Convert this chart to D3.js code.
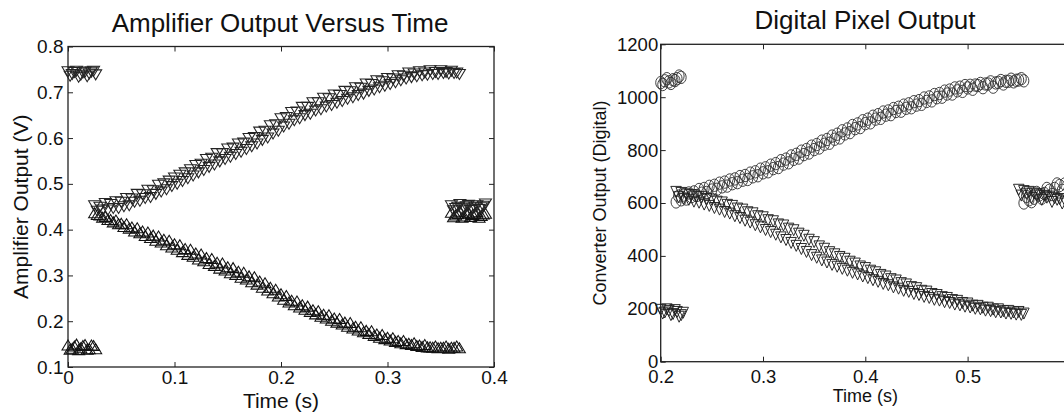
<!DOCTYPE html>
<html>
<head>
<meta charset="utf-8">
<script src="https://cdn.jsdelivr.net/npm/d3@7"></script>
<style>
  body { margin: 0; background: #fff; }
  svg { display: block; background: #fff; }
  text { font-family: "Liberation Sans", Arial, Helvetica, sans-serif; fill: #111; }
</style>
</head>
<body>
<svg id="chart" width="1064" height="418"></svg>
<script>
// ---------- Amplifier output (V) versus time (s) ----------
// down-pointing triangle pixel: resets low, then rises (two read-outs, A and B)
const ampDownTriA = [
  [0.000,0.745],[0.004,0.739],[0.008,0.746],[0.012,0.737],[0.016,0.744],[0.020,0.740],[0.024,0.746],
  [0.025,0.452],[0.030,0.449],[0.035,0.457],[0.040,0.455],[0.045,0.461],[0.050,0.460],[0.055,0.468],
  [0.060,0.467],[0.065,0.477],[0.070,0.476],[0.075,0.486],[0.080,0.485],[0.085,0.497],[0.090,0.500],
  [0.095,0.506],[0.100,0.513],[0.105,0.519],[0.110,0.524],[0.115,0.531],[0.120,0.540],[0.125,0.543],
  [0.130,0.553],[0.135,0.556],[0.140,0.566],[0.145,0.566],[0.150,0.576],[0.155,0.578],[0.160,0.587],
  [0.165,0.589],[0.170,0.599],[0.175,0.601],[0.180,0.613],[0.185,0.615],[0.190,0.627],[0.195,0.629],
  [0.200,0.642],[0.205,0.645],[0.210,0.656],[0.215,0.657],[0.220,0.667],[0.225,0.667],[0.230,0.677],
  [0.235,0.677],[0.240,0.687],[0.245,0.686],[0.250,0.694],[0.255,0.693],[0.260,0.702],[0.265,0.701],
  [0.270,0.710],[0.275,0.709],[0.280,0.718],[0.285,0.717],[0.290,0.725],[0.295,0.723],[0.300,0.730],
  [0.305,0.729],[0.310,0.736],[0.315,0.735],[0.320,0.742],[0.325,0.740],[0.330,0.745],[0.335,0.742],
  [0.340,0.747],[0.345,0.743],[0.350,0.747],[0.355,0.743],[0.360,0.746],[0.365,0.742],
  [0.360,0.452],[0.364,0.446],[0.368,0.455],[0.372,0.447],[0.376,0.453],[0.380,0.445],[0.384,0.452],
  [0.388,0.448],[0.392,0.456]
];
const ampDownTriB = [
  [0.002,0.735],[0.006,0.743],[0.010,0.733],[0.014,0.742],[0.018,0.734],[0.022,0.744],[0.026,0.738],
  [0.0275,0.440],[0.0325,0.443],[0.0375,0.443],[0.0425,0.446],[0.0475,0.446],[0.0525,0.450],
  [0.0575,0.452],[0.0625,0.460],[0.0675,0.462],[0.0725,0.468],[0.0775,0.470],[0.0825,0.477],
  [0.0875,0.482],[0.0925,0.487],[0.0975,0.494],[0.1025,0.499],[0.1075,0.505],[0.1125,0.511],
  [0.1175,0.517],[0.1225,0.524],[0.1275,0.529],[0.1325,0.536],[0.1375,0.541],[0.1425,0.548],
  [0.1475,0.553],[0.1525,0.558],[0.1575,0.564],[0.1625,0.569],[0.1675,0.575],[0.1725,0.581],
  [0.1775,0.587],[0.1825,0.595],[0.1875,0.600],[0.1925,0.609],[0.1975,0.615],[0.2025,0.624],
  [0.2075,0.630],[0.2125,0.638],[0.2175,0.642],[0.2225,0.649],[0.2275,0.652],[0.2325,0.659],
  [0.2375,0.662],[0.2425,0.668],[0.2475,0.671],[0.2525,0.676],[0.2575,0.680],[0.2625,0.685],
  [0.2675,0.688],[0.2725,0.693],[0.2775,0.696],[0.2825,0.702],[0.2875,0.705],[0.2925,0.710],
  [0.2975,0.713],[0.3025,0.717],[0.3075,0.721],[0.3125,0.725],[0.3175,0.729],[0.3225,0.732],
  [0.3275,0.734],[0.3325,0.736],[0.3375,0.737],[0.3425,0.739],[0.3475,0.739],[0.3525,0.741],
  [0.3575,0.740],[0.3625,0.741],[0.3675,0.739],
  [0.362,0.441],[0.366,0.449],[0.370,0.443],[0.374,0.450],[0.378,0.442],[0.382,0.449],[0.386,0.444],
  [0.390,0.451]
];
// up-pointing triangle pixel: resets high, then falls (two read-outs, A and B)
const ampUpTriA = [
  [0.000,0.148],[0.004,0.141],[0.008,0.150],[0.012,0.142],[0.016,0.149],[0.020,0.140],[0.024,0.147],
  [0.025,0.437],[0.030,0.432],[0.035,0.429],[0.040,0.422],[0.045,0.421],[0.050,0.414],[0.055,0.413],
  [0.060,0.406],[0.065,0.404],[0.070,0.397],[0.075,0.395],[0.080,0.388],[0.085,0.386],[0.090,0.379],
  [0.095,0.377],[0.100,0.369],[0.105,0.367],[0.110,0.359],[0.115,0.357],[0.120,0.349],[0.125,0.347],
  [0.130,0.339],[0.135,0.337],[0.140,0.329],[0.145,0.327],[0.150,0.319],[0.155,0.317],[0.160,0.309],
  [0.165,0.307],[0.170,0.299],[0.175,0.297],[0.180,0.288],[0.185,0.284],[0.190,0.274],[0.195,0.270],
  [0.200,0.260],[0.205,0.256],[0.210,0.246],[0.215,0.244],[0.220,0.236],[0.225,0.233],[0.230,0.225],
  [0.235,0.223],[0.240,0.215],[0.245,0.214],[0.250,0.207],[0.255,0.206],[0.260,0.198],[0.265,0.197],
  [0.270,0.189],[0.275,0.188],[0.280,0.180],[0.285,0.179],[0.290,0.172],[0.295,0.171],[0.300,0.165],
  [0.305,0.164],[0.310,0.158],[0.315,0.158],[0.320,0.152],[0.325,0.153],[0.330,0.148],[0.335,0.149],
  [0.340,0.144],[0.345,0.146],[0.350,0.143],[0.355,0.146],[0.360,0.143],[0.365,0.146],
  [0.360,0.438],[0.364,0.432],[0.368,0.440],[0.372,0.430],[0.376,0.437],[0.380,0.433],[0.384,0.439],
  [0.388,0.431],[0.392,0.436]
];
const ampUpTriB = [
  [0.002,0.139],[0.006,0.146],[0.010,0.138],[0.014,0.147],[0.018,0.139],[0.022,0.148],[0.026,0.140],
  [0.0275,0.433],[0.0325,0.427],[0.0375,0.422],[0.0425,0.417],[0.0475,0.413],[0.0525,0.407],
  [0.0575,0.403],[0.0625,0.397],[0.0675,0.393],[0.0725,0.387],[0.0775,0.383],[0.0825,0.377],
  [0.0875,0.373],[0.0925,0.367],[0.0975,0.362],[0.1025,0.357],[0.1075,0.352],[0.1125,0.346],
  [0.1175,0.342],[0.1225,0.336],[0.1275,0.332],[0.1325,0.326],[0.1375,0.322],[0.1425,0.316],
  [0.1475,0.312],[0.1525,0.306],[0.1575,0.302],[0.1625,0.296],[0.1675,0.292],[0.1725,0.286],
  [0.1775,0.281],[0.1825,0.274],[0.1875,0.268],[0.1925,0.262],[0.1975,0.255],[0.2025,0.248],
  [0.2075,0.242],[0.2125,0.236],[0.2175,0.231],[0.2225,0.226],[0.2275,0.221],[0.2325,0.216],
  [0.2375,0.211],[0.2425,0.207],[0.2475,0.202],[0.2525,0.198],[0.2575,0.194],[0.2625,0.189],
  [0.2675,0.185],[0.2725,0.181],[0.2775,0.177],[0.2825,0.173],[0.2875,0.169],[0.2925,0.165],
  [0.2975,0.162],[0.3025,0.159],[0.3075,0.156],[0.3125,0.153],[0.3175,0.151],[0.3225,0.149],
  [0.3275,0.147],[0.3325,0.145],[0.3375,0.144],[0.3425,0.143],[0.3475,0.142],[0.3525,0.143],
  [0.3575,0.141],[0.3625,0.143],[0.3675,0.142],
  [0.362,0.428],[0.366,0.435],[0.370,0.427],[0.374,0.436],[0.378,0.429],[0.382,0.435],[0.386,0.427],
  [0.390,0.434]
];
const ampXTicks = [0, 0.1, 0.2, 0.3, 0.4];
const ampYTicks = [0.1, 0.2, 0.3, 0.4, 0.5, 0.6, 0.7, 0.8];

// ---------- Digital pixel (converter) output versus time (s) ----------
const pixCircleA = [
  [0.200,1055],[0.204,1062],[0.208,1058],[0.212,1066],[0.216,1070],[0.220,1075],
  [0.215,604],[0.220,612],[0.225,615],[0.230,624],[0.235,628],[0.240,637],[0.245,640],[0.250,649],
  [0.255,652],[0.260,661],[0.265,664],[0.270,673],[0.275,677],[0.280,686],[0.285,689],[0.290,699],
  [0.295,703],[0.300,714],[0.305,718],[0.310,730],[0.315,734],[0.320,747],[0.325,752],[0.330,765],
  [0.335,770],[0.340,783],[0.345,789],[0.350,802],[0.355,808],[0.360,822],[0.365,826],[0.370,841],
  [0.375,846],[0.380,861],[0.385,866],[0.390,881],[0.395,885],[0.400,900],[0.405,903],[0.410,917],
  [0.415,920],[0.420,932],[0.425,934],[0.430,946],[0.435,947],[0.440,958],[0.445,960],[0.450,970],
  [0.455,973],[0.460,984],[0.465,986],[0.470,998],[0.475,1000],[0.480,1012],[0.485,1012],[0.490,1024],
  [0.495,1022],[0.500,1035],[0.505,1030],[0.510,1044],[0.515,1036],[0.520,1050],[0.525,1038],
  [0.530,1056],[0.535,1050],[0.540,1060],[0.545,1058],[0.550,1065],[0.555,1062],
  [0.555,600],[0.560,612],[0.565,618],[0.570,630],[0.575,636],[0.580,648],[0.585,655],[0.590,666],
  [0.595,672],[0.600,684]
];
const pixCircleB = [
  [0.202,1048],[0.206,1070],[0.210,1052],[0.214,1063],[0.218,1080],
  [0.2175,626],[0.2225,630],[0.2275,638],[0.2325,642],[0.2375,651],[0.2425,655],[0.2475,663],
  [0.2525,667],[0.2575,675],[0.2625,679],[0.2675,687],[0.2725,691],[0.2775,700],[0.2825,704],
  [0.2875,713],[0.2925,718],[0.2975,728],[0.3025,733],[0.3075,743],[0.3125,749],[0.3175,760],
  [0.3225,766],[0.3275,778],[0.3325,784],[0.3375,796],[0.3425,802],[0.3475,815],[0.3525,821],
  [0.3575,834],[0.3625,840],[0.3675,853],[0.3725,860],[0.3775,873],[0.3825,880],[0.3875,893],
  [0.3925,899],[0.3975,911],[0.4025,917],[0.4075,928],[0.4125,934],[0.4175,944],[0.4225,948],
  [0.4275,957],[0.4325,962],[0.4375,970],[0.4425,975],[0.4475,983],[0.4525,987],[0.4575,997],
  [0.4625,1001],[0.4675,1010],[0.4725,1014],[0.4775,1023],[0.4825,1027],[0.4875,1035],[0.4925,1038],
  [0.4975,1044],[0.5025,1045],[0.5075,1046],[0.5125,1052],[0.5175,1050],[0.5225,1058],[0.5275,1054],
  [0.5325,1063],[0.5375,1060],[0.5425,1068],[0.5475,1064],[0.5525,1070],
  [0.5575,625],[0.5625,605],[0.5675,640],[0.5725,618],[0.5775,655],[0.5825,632],[0.5875,672],
  [0.5925,648]
];
const pixDownTriA = [
  [0.200,196],[0.204,186],[0.208,192],[0.212,180],[0.216,188],[0.220,176],
  [0.215,642],[0.220,638],[0.225,633],[0.230,630],[0.235,624],[0.240,622],[0.245,615],[0.250,613],
  [0.255,605],[0.260,602],[0.265,593],[0.270,589],[0.275,579],[0.280,575],[0.285,565],[0.290,561],
  [0.295,550],[0.300,546],[0.305,535],[0.310,531],[0.315,519],[0.320,515],[0.325,503],[0.330,497],
  [0.335,484],[0.340,476],[0.345,461],[0.350,452],[0.355,436],[0.360,427],[0.365,414],[0.370,406],
  [0.375,396],[0.380,389],[0.385,378],[0.390,371],[0.395,360],[0.400,354],[0.405,344],[0.410,338],
  [0.415,328],[0.420,322],[0.425,312],[0.430,307],[0.435,297],[0.440,292],[0.445,282],[0.450,278],
  [0.455,268],[0.460,265],[0.465,256],[0.470,252],[0.475,244],[0.480,241],[0.485,233],[0.490,230],
  [0.495,222],[0.500,220],[0.505,212],[0.510,211],[0.515,204],[0.520,204],[0.525,197],[0.530,198],
  [0.535,191],[0.540,192],[0.545,186],[0.550,188],[0.555,182],
  [0.550,650],[0.555,645],[0.560,642],[0.565,636],[0.570,633],[0.575,627],[0.580,624],[0.585,618],
  [0.590,615],[0.595,609],[0.600,606]
];
const pixDownTriB = [
  [0.202,182],[0.206,198],[0.210,176],[0.214,195],[0.218,170],[0.222,185],
  [0.2175,622],[0.2225,616],[0.2275,612],[0.2325,605],[0.2375,601],[0.2425,594],[0.2475,589],
  [0.2525,581],[0.2575,575],[0.2625,566],[0.2675,560],[0.2725,550],[0.2775,543],[0.2825,533],
  [0.2875,526],[0.2925,516],[0.2975,508],[0.3025,498],[0.3075,490],[0.3125,480],[0.3175,470],
  [0.3225,460],[0.3275,449],[0.3325,438],[0.3375,426],[0.3425,415],[0.3475,403],[0.3525,393],
  [0.3575,383],[0.3625,375],[0.3675,366],[0.3725,359],[0.3775,351],[0.3825,344],[0.3875,336],
  [0.3925,330],[0.3975,322],[0.4025,316],[0.4075,308],[0.4125,302],[0.4175,294],[0.4225,289],
  [0.4275,281],[0.4325,276],[0.4375,268],[0.4425,264],[0.4475,256],[0.4525,252],[0.4575,245],
  [0.4625,241],[0.4675,234],[0.4725,231],[0.4775,225],[0.4825,222],[0.4875,216],[0.4925,213],
  [0.4975,208],[0.5025,205],[0.5075,200],[0.5125,198],[0.5175,193],[0.5225,191],[0.5275,187],
  [0.5325,186],[0.5375,182],[0.5425,181],[0.5475,178],[0.5525,177],
  [0.5525,628],[0.5575,635],[0.5625,620],[0.5675,628],[0.5725,612],[0.5775,620],[0.5825,604],
  [0.5875,612],[0.5925,598]
];
const pixXTicks = [0.2, 0.3, 0.4, 0.5];
const pixYTicks = [0, 200, 400, 600, 800, 1000, 1200];

// ---------- drawing ----------
const svg = d3.select("#chart");
const INK = "#222";

function triPath(w, h, down) {
  const p = d3.path();
  if (down) { p.moveTo(-w/2, -h/2); p.lineTo(w/2, -h/2); p.lineTo(0, h/2); }
  else      { p.moveTo(-w/2,  h/2); p.lineTo(w/2,  h/2); p.lineTo(0, -h/2); }
  p.closePath();
  return p.toString();
}

function drawPanel(cfg) {
  const g = svg.append("g");
  const x = d3.scaleLinear().domain(cfg.xDomain).range([cfg.left, cfg.left + cfg.width]);
  const y = d3.scaleLinear().domain(cfg.yDomain).range([cfg.top + cfg.height, cfg.top]);
  const tk = 5;

  // frame
  g.append("rect")
    .attr("x", cfg.left).attr("y", cfg.top)
    .attr("width", cfg.width).attr("height", cfg.height)
    .attr("fill", "none").attr("stroke", INK).attr("stroke-width", 1.3);

  const style = sel => {
    sel.select(".domain").remove();
    sel.selectAll(".tick line").attr("stroke", INK).attr("stroke-width", 1);
    sel.selectAll(".tick text").attr("fill", "#111")
      .style("font-family", '"Liberation Sans", Arial, sans-serif')
      .style("font-size", cfg.tickFont + "px");
  };

  g.append("g").attr("transform", `translate(0,${cfg.top + cfg.height})`)
    .call(d3.axisBottom(x).tickValues(cfg.xTicks).tickSizeInner(-tk).tickSizeOuter(0)
      .tickPadding(cfg.xPad).tickFormat(cfg.xFmt))
    .call(style);
  g.append("g").attr("transform", `translate(0,${cfg.top})`)
    .call(d3.axisTop(x).tickValues(cfg.xTicks).tickSizeInner(-tk).tickSizeOuter(0).tickFormat(""))
    .call(style);
  g.append("g").attr("transform", `translate(${cfg.left},0)`)
    .call(d3.axisLeft(y).tickValues(cfg.yTicks).tickSizeInner(-tk).tickSizeOuter(0)
      .tickPadding(cfg.yPad).tickFormat(cfg.yFmt))
    .call(style);
  g.append("g").attr("transform", `translate(${cfg.left + cfg.width},0)`)
    .call(d3.axisRight(y).tickValues(cfg.yTicks).tickSizeInner(-tk).tickSizeOuter(0).tickFormat(""))
    .call(style);

  // titles
  g.append("text").attr("x", cfg.titleX).attr("y", cfg.titleY)
    .attr("text-anchor", "middle").style("font-size", "26px").text(cfg.title);
  g.append("text").attr("x", cfg.left + cfg.width / 2).attr("y", cfg.xLabelY)
    .attr("text-anchor", "middle").style("font-size", cfg.labelFont + "px").text(cfg.xLabel);
  g.append("text")
    .attr("transform", `translate(${cfg.yLabelX},${cfg.top + cfg.height / 2}) rotate(-90)`)
    .attr("text-anchor", "middle").style("font-size", cfg.labelFont + "px").text(cfg.yLabel);

  // markers
  cfg.series.forEach(s => {
    const m = g.append("g").attr("fill", "none").attr("stroke", s.color)
      .attr("stroke-width", s.sw).attr("stroke-linejoin", "miter");
    if (s.shape === "circle") {
      m.selectAll("ellipse").data(s.data).join("ellipse")
        .attr("cx", d => x(d[0])).attr("cy", d => y(d[1]))
        .attr("rx", s.rx).attr("ry", s.ry);
    } else {
      const dpath = triPath(s.w, s.h, s.shape === "down");
      m.selectAll("path").data(s.data).join("path")
        .attr("d", dpath)
        .attr("transform", d => `translate(${x(d[0])},${y(d[1])})`);
    }
  });
}

drawPanel({
  left: 68, top: 46.5, width: 426, height: 320.5,
  xDomain: [0, 0.4], yDomain: [0.1, 0.8],
  xTicks: ampXTicks, yTicks: ampYTicks,
  xFmt: d => d === 0 ? "0" : d3.format(".1f")(d),
  yFmt: d3.format(".1f"),
  xPad: 3, yPad: 4.5, tickFont: 19, labelFont: 21,
  title: "Amplifier Output Versus Time", titleX: 280, titleY: 31.5,
  xLabel: "Time (s)", xLabelY: 408,
  yLabel: "Amplifier Output (V)", yLabelX: 28,
  series: [
    { data: ampUpTriA.concat(ampUpTriB), shape: "up", w: 12, h: 10, color: "#121212", sw: 1.05 },
    { data: ampDownTriA.concat(ampDownTriB), shape: "down", w: 12, h: 10, color: "#242424", sw: 1.05 }
  ]
});

drawPanel({
  left: 660.7, top: 44.3, width: 409.2, height: 317.4,
  xDomain: [0.2, 0.6], yDomain: [0, 1200],
  xTicks: pixXTicks, yTicks: pixYTicks,
  xFmt: d3.format(".1f"), yFmt: d3.format("d"),
  xPad: 8.5, yPad: 2.5, tickFont: 18.5, labelFont: 18,
  title: "Digital Pixel Output", titleX: 865, titleY: 29,
  xLabel: "Time (s)", xLabelY: 401.5,
  yLabel: "Converter Output (Digital)", yLabelX: 606,
  series: [
    { data: pixCircleA.concat(pixCircleB), shape: "circle", rx: 5, ry: 6.2, color: "#383838", sw: 0.95 },
    { data: pixDownTriA.concat(pixDownTriB), shape: "down", w: 10.5, h: 11, color: "#202020", sw: 0.95 }
  ]
});
</script>
</body>
</html>
